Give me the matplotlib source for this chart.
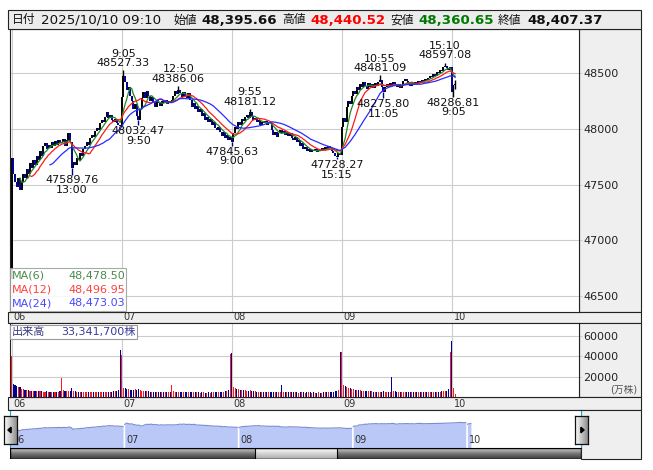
"""
5-minute index chart (Oct 6 - Oct 10) with moving averages, volume and navigator
"""
import numpy as np
import pandas as pd
import matplotlib
matplotlib.use("Agg")
import matplotlib.pyplot as plt
from matplotlib.patches import Rectangle, Polygon
from matplotlib.colors import LinearSegmentedColormap
from matplotlib import transforms

plt.rcParams['font.family'] = ['DejaVu Sans', 'Noto Sans CJK JP']

W, H = 653, 470

# ---- data -------------------------------------------------------------
day_labels = ["06", "07", "08", "09", "10"]
bars_per_day = 66          # 9:00-11:25 and 12:30-15:25, 5-minute bars
first_open = 46650.0       # open of the very first bar

close_06 = [47740, 47600, 47520, 47480, 47560, 47450, 47520, 47600, 47560, 47640,
            47600, 47690, 47650, 47720, 47680, 47760, 47720, 47800, 47760, 47850,
            47870, 47820, 47860, 47830, 47880, 47850, 47890, 47860, 47900, 47870,
            47880, 47910, 47850, 47900, 47960, 47880, 47650, 47700, 47680, 47740,
            47720, 47780, 47760, 47820, 47850, 47880, 47860, 47920, 47950, 47930,
            47980, 48010, 47990, 48050, 48080, 48060, 48110, 48150, 48100, 48130,
            48080, 48060, 48090, 48050, 48040, 48030]
close_07 = [48290, 48480, 48420, 48350, 48380, 48300, 48250, 48180, 48220, 48120,
            48080, 48180, 48280, 48330, 48280, 48340, 48300, 48250, 48290, 48240,
            48200, 48260, 48230, 48210, 48250, 48230, 48260, 48220, 48250, 48240,
            48260, 48300, 48340, 48310, 48350, 48320, 48290, 48330, 48300, 48280,
            48320, 48260, 48200, 48230, 48180, 48210, 48150, 48180, 48120, 48140,
            48080, 48110, 48060, 48090, 48040, 48060, 48010, 47990, 48020, 47970,
            47940, 47970, 47920, 47950, 47900, 47930]
close_08 = [47880, 47960, 48020, 48000, 48060, 48040, 48090, 48070, 48110, 48130,
            48100, 48150, 48120, 48080, 48100, 48060, 48080, 48040, 48060, 48050,
            48070, 48040, 48060, 48050, 47990, 47950, 47970, 47930, 47960, 47990,
            47960, 47980, 47950, 47970, 47940, 47960, 47920, 47900, 47930, 47880,
            47900, 47850, 47870, 47820, 47840, 47800, 47820, 47790, 47810, 47800,
            47820, 47790, 47810, 47800, 47830, 47810, 47840, 47820, 47850, 47830,
            47800, 47780, 47760, 47750, 47780, 47770]
close_09 = [48020, 48100, 48060, 48200, 48250, 48220, 48300, 48340, 48310, 48380,
            48350, 48400, 48380, 48420, 48390, 48360, 48410, 48380, 48400, 48370,
            48410, 48390, 48420, 48440, 48380, 48330, 48380, 48400, 48380, 48410,
            48390, 48420, 48400, 48380, 48400, 48370, 48390, 48430, 48450, 48430,
            48410, 48390, 48410, 48400, 48420, 48410, 48430, 48420, 48440, 48430,
            48450, 48440, 48460, 48480, 48470, 48490, 48480, 48510, 48500, 48530,
            48520, 48560, 48570, 48550, 48530, 48555]
close_10 = [48330, 48395, 48407.37]

vol_06 = [40000, 12500, 12000, 10500, 10000, 9500, 8000, 7500, 7000, 6800,
          6500, 6300, 6000, 6200, 5800, 5600, 5500, 5700, 5400, 5300,
          5200, 5400, 5100, 5000, 5200, 4900, 5000, 4800, 5100, 5500,
          18600, 6500, 6000, 5800, 6200, 5600, 9000, 6000, 5500, 5300,
          5200, 5000, 5100, 4900, 4800, 5000, 4700, 4800, 4600, 4700,
          4500, 4600, 4800, 4500, 4400, 4600, 4700, 4500, 4800, 5000,
          5200, 5400, 5800, 6200, 7000, 46000]
vol_07 = [41500, 9000, 8500, 8000, 7500, 7200, 7000, 6800, 7500, 7000,
          8000, 6500, 6300, 6000, 5800, 5600, 5500, 5300, 5200, 5000,
          5100, 4900, 4800, 4700, 4900, 4600, 4700, 4500, 4600, 5000,
          11500, 5500, 5200, 5000, 5300, 4900, 4800, 4700, 4600, 4800,
          4500, 4600, 4700, 4500, 4400, 4600, 4500, 4300, 4400, 4500,
          4300, 4200, 4400, 4300, 4500, 4400, 4600, 4500, 4700, 4800,
          5000, 5200, 5500, 6000, 7000, 42000]
vol_08 = [43000, 9500, 8500, 8000, 7600, 7200, 7000, 6600, 6400, 6200,
          6000, 6500, 5800, 5600, 5500, 5300, 5200, 5100, 5000, 4900,
          4800, 4900, 4700, 4600, 5200, 5000, 4800, 4700, 4600, 4900,
          12000, 5200, 5000, 4800, 4700, 4600, 4500, 4600, 4400, 4500,
          4300, 4600, 4400, 4500, 4300, 4600, 4400, 4500, 4300, 4400,
          4200, 4300, 4400, 4200, 4300, 4400, 4500, 4400, 4600, 4700,
          5000, 5300, 5600, 6000, 6800, 43500]
vol_09 = [44000, 12000, 10500, 9500, 9000, 8500, 8000, 7600, 7200, 7000,
          6800, 6500, 6300, 6200, 6000, 5800, 5600, 5500, 5400, 5300,
          5200, 5100, 5000, 5300, 5200, 5400, 5000, 4900, 4800, 5000,
          20000, 6000, 5500, 5200, 5000, 4900, 4800, 4700, 4900, 4800,
          4600, 4700, 4500, 4600, 4500, 4400, 4600, 4500, 4400, 4500,
          4600, 4500, 4700, 4600, 4800, 4700, 4900, 4800, 5000, 5200,
          5400, 5600, 5800, 6200, 7500, 43600]
vol_10 = [55000, 8700, 3334.17]

# labelled highs / lows: bar index, value, time
ext_idx = [36, 67, 76, 100, 132, 143, 195, 221, 223, 260, 265]
ext_val = [47589.76, 48527.33, 48032.47, 48386.06, 47845.63, 48181.12,
           47728.27, 48481.09, 48275.80, 48597.08, 48286.81]
ext_time = ["13:00", "9:05", "9:50", "12:50", "9:00", "9:55",
            "15:15", "10:55", "11:05", "15:10", "9:05"]
ext_kind = ["low", "high", "low", "high", "low", "high",
            "low", "high", "low", "high", "low"]

# last bar (header)
hdr_time = "2025/10/10 09:10"
hdr_open, hdr_high, hdr_low, hdr_close = 48395.66, 48440.52, 48360.65, 48407.37

ma_periods = [6, 12, 24]
ma_colors = ["#1f8a1f", "#ff1a1a", "#2a2aff"]
ma_text_colors = ["#4a8a4a", "#ff4040", "#4848ff"]
ma_last = ["48,478.50", "48,496.95", "48,473.03"]
vol_last = "33,341,700"

price_ticks = [46500, 47000, 47500, 48000, 48500]
vol_ticks = [20000, 40000, 60000]

# ---- derived ----------------------------------------------------------
close = np.array(close_06 + close_07 + close_08 + close_09 + close_10, dtype=float)
volume = np.array(vol_06 + vol_07 + vol_08 + vol_09 + vol_10, dtype=float)
opens = np.concatenate([[first_open], close[:-1]])
xs = np.arange(len(close))
up = close >= opens
day_starts = [d * bars_per_day for d in range(len(day_labels))]

fig = plt.figure(figsize=(W / 100, H / 100), dpi=100)
fig.patch.set_facecolor("white")

PANEL = "#efefef"
EDGE = "#222222"
GRID = "#cccccc"


def px_axes(x0, y0, x1, y1):
    return fig.add_axes([x0 / W, 1 - y1 / H, (x1 - x0) / W, (y1 - y0) / H])


def px_rect(x0, y0, x1, y1, **kw):
    r = Rectangle((x0 / W, 1 - y1 / H), (x1 - x0) / W, (y1 - y0) / H,
                  transform=fig.transFigure, **kw)
    fig.add_artist(r)
    return r


def px_text(x, y, s, **kw):
    return fig.text(x / W, 1 - y / H, s, **kw)


def style_axes(a):
    for sp in a.spines.values():
        sp.set_color(EDGE)
        sp.set_linewidth(0.8)


# background panels (behind axes)
px_rect(579, 29, 641, 312, fc=PANEL, ec=EDGE, lw=0.8, zorder=-2)
px_rect(8, 312, 641, 323, fc=PANEL, ec=EDGE, lw=0.8, zorder=-2)
px_rect(579, 323, 641, 397, fc=PANEL, ec=EDGE, lw=0.8, zorder=-2)
px_rect(8, 397, 641, 410, fc=PANEL, ec=EDGE, lw=0.8, zorder=-2)
px_rect(581, 410, 641, 459, fc=PANEL, ec=EDGE, lw=0.8, zorder=-2)

# ---- header -----------------------------------------------------------
px_rect(8, 10, 641, 29, fc="#ececec", ec=EDGE, lw=0.8, zorder=3)
header = [
    (12, "日付", "#111111", "normal"),
    (41, hdr_time, "#111111", "normal"),
    (173, "始値", "#111111", "normal"),
    (201, f"{hdr_open:,.2f}", "#111111", "bold"),
    (282, "高値", "#111111", "normal"),
    (310, f"{hdr_high:,.2f}", "#ff0000", "bold"),
    (390, "安値", "#111111", "normal"),
    (418, f"{hdr_low:,.2f}", "#007a00", "bold"),
    (498, "終値", "#111111", "normal"),
    (527, f"{hdr_close:,.2f}", "#111111", "bold"),
]
for hx, s, c, wgt in header:
    is_cjk = not any(ch.isdigit() for ch in s)
    px_text(hx, 20, s, color=c, fontweight=wgt, va="center", ha="left",
            fontsize=8.5 if is_cjk else 9.6,
            family=["Noto Sans CJK JP"] if is_cjk else ["DejaVu Sans"], zorder=4)

# ---- price panel ------------------------------------------------------
ax = px_axes(10, 29, 579, 312)
ax.set_facecolor("white")
ax.set_xlim(-1, 340.3)
ax.set_ylim(46356, 48898)
ax.set_yticks(price_ticks)
ax.set_yticklabels([str(t) for t in price_ticks])
ax.yaxis.tick_right()
ax.set_xticks(day_starts)
ax.tick_params(axis="x", length=0, labelbottom=False)
ax.tick_params(axis="y", length=2, color=GRID, pad=1, labelsize=8, labelcolor="#222222")
ax.grid(True, color=GRID, lw=0.8)
ax.set_axisbelow(True)
style_axes(ax)

lo = np.minimum(opens, close)
hi = np.maximum(opens, close)
ax.vlines(xs[up], lo[up], hi[up], colors="black", lw=1.4, zorder=2)
ax.vlines(xs[~up], lo[~up], hi[~up], colors="#00008c", lw=1.4, zorder=2)
# wicks to labelled extremes and last bar range
for i, v in zip(ext_idx, ext_val):
    ax.vlines(i, min(close[i], v), max(close[i], v),
              colors="black" if up[i] else "#00008c", lw=1.0, zorder=2)
ax.vlines(xs[-1], hdr_low, hdr_high, colors="black", lw=1.0, zorder=2)

s = pd.Series(close)
for n, c in zip(ma_periods, ma_colors):
    ax.plot(xs, s.rolling(n).mean(), color=c, lw=0.9, zorder=3)

for i, v, t, k in zip(ext_idx, ext_val, ext_time, ext_kind):
    if k == "high":
        ax.annotate(f"{t}\n{v:.2f}", (i, v), xytext=(0, 1.5), textcoords="offset points",
                    ha="center", va="bottom", fontsize=8, linespacing=0.95,
                    color="#111111", zorder=5)
    else:
        ax.annotate(f"{v:.2f}\n{t}", (i, v), xytext=(0, -0.5), textcoords="offset points",
                    ha="center", va="top", fontsize=8, linespacing=0.95,
                    color="#111111", zorder=5)

# MA legend box
px_rect(10, 268, 126, 311, fc="white", ec="#9a9a9a", lw=0.8, alpha=0.85, zorder=5)
for k, (n, tc, val) in enumerate(zip(ma_periods, ma_text_colors, ma_last)):
    yy = 276 + k * 13.5
    px_text(11.5, yy, f"MA({n})", color=tc, fontsize=8, va="center", ha="left", zorder=6)
    px_text(125, yy, val, color=tc, fontsize=8, va="center", ha="right", zorder=6)

# date strips
blend_main = transforms.blended_transform_factory(ax.transData, fig.transFigure)
for d, lab in zip(day_starts, day_labels):
    ax.text(d + 1.0, 1 - 317.5 / H, lab, transform=blend_main, fontsize=7,
            color="#333333", ha="left", va="center", clip_on=False)
    ax.text(d + 1.0, 1 - 404 / H, lab, transform=blend_main, fontsize=7,
            color="#333333", ha="left", va="center", clip_on=False)

# ---- volume panel -----------------------------------------------------
av = px_axes(10, 323, 579, 397)
av.set_facecolor("white")
av.set_xlim(-1, 340.3)
av.set_ylim(0, 72300)
av.set_yticks(vol_ticks)
av.set_yticklabels([str(t) for t in vol_ticks])
av.yaxis.tick_right()
av.set_xticks(day_starts)
av.tick_params(axis="x", length=0, labelbottom=False)
av.tick_params(axis="y", length=2, color=GRID, pad=1, labelsize=8, labelcolor="#222222")
av.grid(True, color=GRID, lw=0.8)
av.set_axisbelow(True)
style_axes(av)
av.bar(xs, volume, width=0.62, color=np.where(up, "#ff1a1a", "#000090"), zorder=2)

px_rect(10, 324.5, 137, 339, fc="white", ec="#9a9a9a", lw=0.8, zorder=5)
px_text(12, 332, "出来高", color="#3a3a80", fontsize=8, va="center", ha="left",
        family=["Noto Sans CJK JP"], zorder=6)
px_text(136, 332, f"{vol_last}株", color="#3a3a9a", fontsize=8, va="center", ha="right",
        zorder=6)
px_text(637, 390, "(万株)", color="#555555", fontsize=7, va="center", ha="right",
        family=["DejaVu Sans", "Noto Sans CJK JP"], zorder=6)

# ---- navigator --------------------------------------------------------
an = px_axes(10, 410, 581, 448)
an.set_facecolor("white")
an.set_xlim(-0.3, 329.6)
nav_lo, nav_hi = 45130, 50240
an.set_ylim(nav_lo, nav_hi)
an.set_xticks([])
an.set_yticks([])
for d in day_starts:
    seg = xs[(xs >= d) & (xs < d + bars_per_day)]
    an.fill_between(seg, close[seg], nav_lo, color="#b9c8f6", lw=0, zorder=1)
    an.plot(seg, close[seg], color="#7c8ad0", lw=0.8, zorder=2)
blend_nav = transforms.blended_transform_factory(an.transData, an.transAxes)
for d, lab in zip(day_starts, day_labels):
    an.text(d + 0.8, 0.2, lab, transform=blend_nav, fontsize=7, color="#333333",
            ha="left", va="center", zorder=3)
for sp in an.spines.values():
    sp.set_linewidth(0.8)
an.spines["top"].set_color(EDGE)
an.spines["bottom"].set_color(EDGE)
an.spines["left"].set_color("#2aa4d8")
an.spines["right"].set_color("#2aa4d8")

# scrollbar
asb = px_axes(10, 448, 581, 459)
asb.axis("off")
bar_cmap = LinearSegmentedColormap.from_list("bar", ["#cfcfcf", "#777777", "#3a3a3a"])
thumb_cmap = LinearSegmentedColormap.from_list("thumb", ["#ffffff", "#aaaaaa"])
vgrad = np.linspace(0, 1, 32).reshape(-1, 1)
asb.imshow(vgrad, cmap=bar_cmap, extent=(0, 1, 0, 1), aspect="auto", origin="upper")
thumb_x0, thumb_x1 = (255 - 10) / 571, (337 - 10) / 571
asb.imshow(vgrad, cmap=thumb_cmap, extent=(thumb_x0, thumb_x1, 0, 1),
           aspect="auto", origin="upper", zorder=2)
asb.add_patch(Rectangle((thumb_x0, 0), thumb_x1 - thumb_x0, 1, fill=False,
                        ec="black", lw=0.8, zorder=3))
asb.add_patch(Rectangle((0, 0), 1, 1, fill=False, ec="black", lw=1.0, zorder=3))
asb.set_xlim(0, 1)
asb.set_ylim(0, 1)

# arrow buttons
btn_cmap = LinearSegmentedColormap.from_list("btn", ["#ffffff", "#8e8e8e"])
hgrad = np.linspace(0, 1, 32).reshape(1, -1)
for bx0, bx1, direction in [(4, 17, "left"), (575, 588, "right")]:
    ab = px_axes(bx0, 416, bx1, 444)
    ab.imshow(hgrad, cmap=btn_cmap, extent=(0, 1, 0, 1), aspect="auto")
    ab.set_xlim(0, 1)
    ab.set_ylim(0, 1)
    ab.set_xticks([])
    ab.set_yticks([])
    for sp in ab.spines.values():
        sp.set_color("#111111")
        sp.set_linewidth(0.9)
    if direction == "left":
        tri = [(0.3, 0.5), (0.55, 0.6), (0.55, 0.4)]
    else:
        tri = [(0.7, 0.5), (0.45, 0.6), (0.45, 0.4)]
    ab.add_patch(Polygon(tri, closed=True, color="black"))

fig.savefig("out.png", dpi=100)
